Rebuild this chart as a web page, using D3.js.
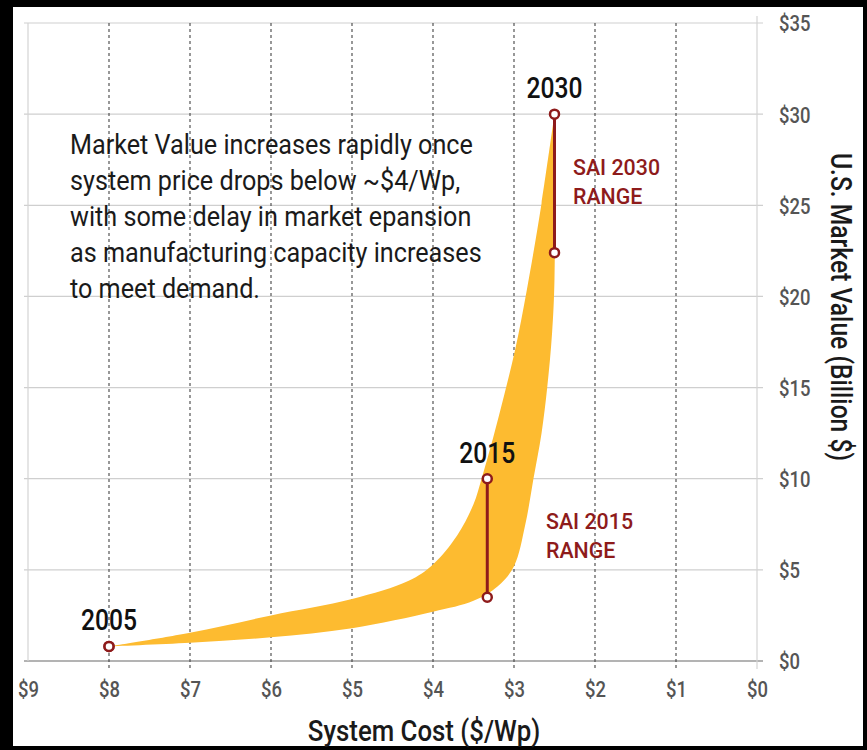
<!DOCTYPE html>
<html>
<head>
<meta charset="utf-8">
<script src="https://cdn.jsdelivr.net/npm/d3@7"></script>
<style>
  html, body { margin: 0; padding: 0; background: #000; }
  svg { display: block; }
  text { font-family: Roboto, "Liberation Sans", sans-serif; }
</style>
</head>
<body>
<svg id="chart" width="867" height="750"></svg>
<script>
// System cost axis ($/Wp), reversed: high cost on the left
const costTicks = [9, 8, 7, 6, 5, 4, 3, 2, 1, 0];
const costTickLabels = ["$9", "$8", "$7", "$6", "$5", "$4", "$3", "$2", "$1", "$0"];
// Market value axis (billion $)
const valueTicks = [0, 5, 10, 15, 20, 25, 30, 35];
const valueTickLabels = ["$0", "$5", "$10", "$15", "$20", "$25", "$30", "$35"];

// Upper (left) edge of the projected market band: [cost, value]
const bandUpper = [
  [8.0, 0.8], [7.0, 1.55], [6.0, 2.5], [5.0, 3.4], [4.3, 4.4], [4.0, 5.3],
  [3.7, 6.9], [3.5, 8.6], [3.4, 10.0], [3.26, 12.2], [3.12, 14.6],
  [2.98, 17.2], [2.84, 20.4], [2.66, 25.1], [2.5, 30.0]
];
// Lower (right) edge of the band: [cost, value]
const bandLower = [
  [8.0, 0.8], [7.0, 1.0], [6.0, 1.3], [5.0, 1.8], [4.0, 2.7], [3.5, 3.3],
  [3.2, 4.1], [3.0, 5.2], [2.86, 7.5], [2.76, 10.0], [2.66, 12.5],
  [2.59, 15.0], [2.53, 18.0], [2.5, 21.0], [2.5, 30.0]
];

// Milestones
const years = ["2005", "2015", "2030"];
const yearCost = [8.0, 3.33, 2.5];
const yearLow = [0.8, 3.5, 22.4];
const yearHigh = [0.8, 10.0, 30.0];
const rangeLabels = [null, ["SAI 2015", "RANGE"], ["SAI 2030", "RANGE"]];

const noteLines = [
  "Market Value increases rapidly once",
  "system price drops below ~$4/Wp,",
  "with some delay in market epansion",
  "as manufacturing capacity increases",
  "to meet demand."
];

const W = 867, H = 750;
const svg = d3.select("#chart");
const narrow = 0.84; // horizontal squeeze for condensed lettering

// frame
svg.append("rect").attr("x", 0).attr("y", 0).attr("width", W).attr("height", H).attr("fill", "#000");
svg.append("rect").attr("x", 13).attr("y", 7).attr("width", W - 13 - 4).attr("height", H - 7 - 4).attr("fill", "#fff");

const x = d3.scaleLinear().domain([9, 0]).range([28, 757]);
const y = d3.scaleLinear().domain([0, 35]).range([661, 23]);

const red = "#8e1b1b";
const band = "#fdbb30";

// places a condensed text at (px, py)
function label(parent, px, py, str, opts) {
  return parent.append("text")
    .attr("transform", `translate(${px},${py}) scale(${opts.sx || narrow},1)`)
    .attr("text-anchor", opts.anchor || "start")
    .attr("font-size", opts.size)
    .attr("font-weight", opts.weight || 400)
    .attr("fill", opts.fill || "#111")
    .text(str);
}

// horizontal gridlines
svg.append("g").selectAll("line").data(valueTicks).join("line")
  .attr("x1", 24).attr("x2", 763)
  .attr("y1", d => y(d)).attr("y2", d => y(d))
  .attr("stroke", d => d === 0 ? "#9a9a9a" : "#cfcfcf")
  .attr("stroke-width", d => d === 0 ? 1.5 : 1.2);

// vertical gridlines
svg.append("g").selectAll("line").data(costTicks).join("line")
  .attr("x1", d => x(d)).attr("x2", d => x(d))
  .attr("y1", d => d === 0 ? 16 : y(35))
  .attr("y2", d => d === 9 ? y(0) : 669)
  .attr("stroke", d => (d === 9 || d === 0) ? "#d4d4d4" : "#444")
  .attr("stroke-width", d => (d === 9 || d === 0) ? 1.2 : 1.1)
  .attr("stroke-dasharray", d => (d === 9 || d === 0) ? null : "3,3");

// right value axis labels
const yAxis = d3.axisRight(y).tickValues(valueTicks).tickSize(0)
  .tickFormat((d, i) => valueTickLabels[i]);
const gy = svg.append("g").attr("transform", "translate(779,0)").call(yAxis);
gy.select(".domain").remove();
gy.selectAll("text")
  .attr("x", 0).attr("dy", "0.36em")
  .attr("transform", `scale(${narrow},1)`)
  .attr("text-anchor", "start")
  .attr("fill", "#555").attr("font-size", 22).attr("font-weight", 500)
  .style("font-family", "Roboto, sans-serif");

// bottom cost axis labels
const xAxis = d3.axisBottom(x).tickValues(costTicks).tickSize(0)
  .tickFormat((d, i) => costTickLabels[i]);
const gx = svg.append("g").attr("transform", "translate(0,681)").call(xAxis);
gx.select(".domain").remove();
gx.selectAll("text")
  .attr("y", 0).attr("dy", "0.71em")
  .attr("transform", `scale(${narrow},1)`)
  .attr("fill", "#555").attr("font-size", 22).attr("font-weight", 500)
  .style("font-family", "Roboto, sans-serif");

// axis titles
label(svg, 424, 741, "System Cost ($/Wp)", { size: 29, weight: 500, anchor: "middle", fill: "#1a1a1a", sx: 0.89 });
svg.append("text")
  .attr("transform", "translate(831,307) rotate(90) scale(0.85,1)")
  .attr("text-anchor", "middle").attr("font-size", 29).attr("font-weight", 500)
  .attr("fill", "#1a1a1a").text("U.S. Market Value (Billion $)");

// projected band
const edge = d3.line().x(d => x(d[0])).y(d => y(d[1])).curve(d3.curveCatmullRom.alpha(0.5));
const bandPath = edge(bandUpper) + edge(bandLower.slice().reverse()).replace(/^M/, "L") + "Z";
svg.append("path").attr("d", bandPath).attr("fill", band);

// range bars
years.forEach((yr, i) => {
  const cx = x(yearCost[i]);
  if (yearHigh[i] !== yearLow[i]) {
    svg.append("line")
      .attr("x1", cx).attr("x2", cx)
      .attr("y1", y(yearHigh[i])).attr("y2", y(yearLow[i]))
      .attr("stroke", red).attr("stroke-width", 3);
  }
  [yearHigh[i], yearLow[i]].forEach(v => {
    svg.append("circle").attr("cx", cx).attr("cy", y(v)).attr("r", 4.5)
      .attr("fill", "#fff").attr("stroke", red).attr("stroke-width", 2.5);
  });
  label(svg, cx, y(yearHigh[i]) - 16, yr, { size: 29, weight: 500, anchor: "middle", fill: "#111", sx: 0.85 });
});

// SAI range labels
const rangePos = [null, [546, 529], [573, 175]];
rangeLabels.forEach((lines, i) => {
  if (!lines) return;
  lines.forEach((s, k) => {
    label(svg, rangePos[i][0], rangePos[i][1] + k * 29, s, { size: 23, weight: 500, fill: red, sx: 0.93 });
  });
});

// annotation
noteLines.forEach((s, k) => {
  label(svg, 70, 154 + k * 36, s, { size: 28, weight: 400, fill: "#1a1a1a", sx: 0.9 });
});
</script>
</body>
</html>
